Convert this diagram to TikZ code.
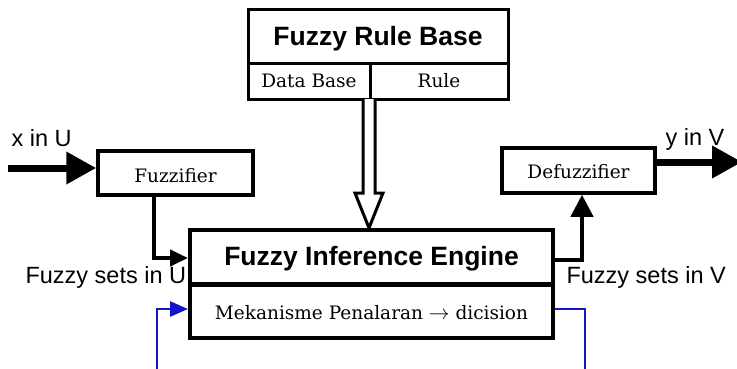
\documentclass[tikz,border=0pt]{standalone}
\usepackage{fontspec}
\setmainfont{DejaVu Serif}
\setsansfont{Liberation Sans}
\usetikzlibrary{arrows.meta,calc}
\definecolor{fbblue}{RGB}{20,20,200}
\tikzset{
  box/.style={draw=black, line width=3.5pt, fill=white, inner sep=0pt},
  serif/.style={font=\rmfamily\fontsize{18.5}{18.5}\selectfont},
  sanslab/.style={font=\sffamily\fontsize{23.5}{23.5}\selectfont},
  title/.style={font=\sffamily\bfseries\fontsize{26.5}{26.5}\selectfont},
  conn/.style={line width=4pt, -{Triangle[length=18pt,width=16pt]}},
  fb/.style={draw=fbblue, line width=2.8pt},
  bigarrow/.style={line width=7pt, -{Triangle[length=30pt,width=31pt]}}
}
\begin{document}
\begin{tikzpicture}[x=1pt,y=-1pt]
\useasboundingbox (0,0) rectangle (737,368);
\clip (0,0) rectangle (737,368);
% Fuzzy Rule Base
\node[box, line width=3pt, minimum width=260pt, minimum height=90pt] (rb) at (378,54) {};
\coordinate (rbdl) at (248,63);
\coordinate (rbdr) at (508,63);
\coordinate (rbv) at (370,63);
\draw[line width=3pt] (rbdl) -- (rbdr);
\draw[line width=3pt] (rbv) -- (rbv |- rb.south);
\node[title, anchor=base] (rbt) at (378,45) {Fuzzy Rule Base};
\node[serif, anchor=base] (db) at (309,87) {Data Base};
\node[serif, anchor=base] (rule) at (439,87) {Rule};
% Engine
\node[box, line width=4pt, minimum width=363pt, minimum height=108pt] (eng) at (371.5,284) {};
\draw[line width=5pt] (eng.west) -- (eng.east);
\node[title, anchor=base] (engt) at (371.5,265) {Fuzzy Inference Engine};
\node[serif, anchor=base] (mek) at (371.5,319) {Mekanisme Penalaran {\fontsize{22}{22}\selectfont$\rightarrow$} dicision};
% hollow arrow
\draw[line width=3pt, fill=white, line join=miter]
  (363,99) -- (363,193) -- (355,193) -- (369,228) -- (383,193) -- (375,193) -- (375,99);
% Fuzzifier
\node[box, minimum width=155pt, minimum height=44pt] (fz) at (175.5,173) {};
\node[serif, anchor=base] (fzt) at (175.5,182) {Fuzzifier};
% Defuzzifier
\node[box, minimum width=153pt, minimum height=45pt] (dfz) at (578.5,170.5) {};
\node[serif, anchor=base] (dfzt) at (578.5,178) {Defuzzifier};
% input / output
\coordinate (xin) at (8,168);
\draw[bigarrow] (xin) -- (xin -| fz.west);
\coordinate (yout) at (742,162);
\draw[bigarrow] (yout -| dfz.east) -- (yout);
\node[sanslab, anchor=base west] (xl) at (8,146) {x in U};
\node[sanslab, anchor=base west] (yl) at (662,145) {y in V};
\node[sanslab, anchor=base west] (fsu) at (22,283) {Fuzzy sets in U};
\node[sanslab, anchor=base west] (fsv) at (563,283) {Fuzzy sets in V};
% fuzzifier -> engine
\coordinate (c1) at (154,258);
\draw[conn] (c1 |- fz.south) -- (c1) -- (c1 -| eng.west);
% engine -> defuzzifier
\coordinate (c2) at (582,260);
\draw[line width=4pt, -{Triangle[length=22pt,width=22pt]}] (c2 -| eng.east) -- (c2) -- (c2 |- dfz.south);
% blue feedback
\coordinate (b1) at (585,309);
\coordinate (b2) at (585,375);
\coordinate (b3) at (157,375);
\coordinate (b4) at (157,309);
\draw[fb, -{Triangle[length=18pt,width=15pt]}] (b1 -| eng.east) -- (b1) -- (b2) -- (b3) -- (b4) -- (b4 -| eng.west);
\end{tikzpicture}
\end{document}
